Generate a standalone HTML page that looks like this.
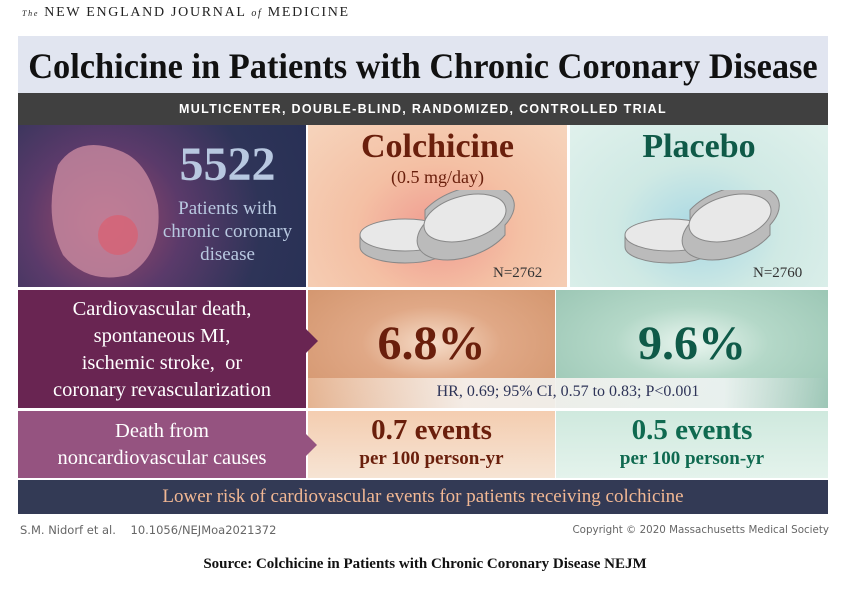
<!DOCTYPE html>
<html><head><meta charset="utf-8"><style>
body{margin:0;width:850px;height:593px;background:#fff;position:relative;overflow:hidden;font-family:"Liberation Serif",serif}
.a{position:absolute}
.c{text-align:center;white-space:nowrap}
</style></head><body>
<div class="a" style="left:22px;top:5px;font-size:14px;letter-spacing:1.7px;color:#222;white-space:nowrap"><span style="font-size:8px;font-style:italic">The</span> NEW ENGLAND JOURNAL <i style="font-size:10px">of</i> MEDICINE</div>
<div class="a" style="left:18px;top:36px;width:810px;height:57px;background:#e1e5f0"></div>
<div class="a c" style="left:10px;top:45px;width:810px;font-size:36px;font-weight:bold;color:#111;transform:scaleX(0.955);transform-origin:center">Colchicine in Patients with Chronic Coronary Disease</div>
<div class="a c" style="left:18px;top:93px;width:810px;height:32px;line-height:32px;background:#404040;color:#fff;font-family:'Liberation Sans',sans-serif;font-size:12.5px;font-weight:bold;letter-spacing:1.3px">MULTICENTER, DOUBLE-BLIND, RANDOMIZED, CONTROLLED TRIAL</div>
<!-- row1 -->
<div class="a" style="left:18px;top:125px;width:288px;height:162px;background:radial-gradient(circle at 30% 60%,#a04a6a 0,#5a3a6a 35%,#2e3458 70%,#283055 100%)"></div>
<svg class="a" style="left:18px;top:125px" width="160" height="162"><path d="M40 40 Q60 10 100 25 Q130 35 140 80 Q145 130 110 150 Q70 160 45 130 Q25 90 40 40Z" fill="#c88aa0" opacity=".8"/><circle cx="100" cy="110" r="20" fill="#e05a6a" opacity=".6"/></svg>
<div class="a c" style="left:160px;top:140px;width:135px;font-size:48px;font-weight:bold;color:#b8c8e0;line-height:50px">5522</div>
<div class="a c" style="left:150px;top:197px;width:155px;font-size:19px;color:#b8c8e0;line-height:23px;white-space:normal">Patients with chronic coronary disease</div>
<div class="a" style="left:308px;top:125px;width:259px;height:162px;background:radial-gradient(ellipse at 50% 65%,#f09a90 0,#f4c0a4 45%,#f6d4bc 100%)"></div>
<div class="a" style="left:570px;top:125px;width:258px;height:162px;background:radial-gradient(ellipse at 50% 65%,#a8d8e4 0,#cfe9e4 45%,#e0f1ec 100%)"></div>
<div class="a c" style="left:308px;top:128px;width:259px;font-size:34px;font-weight:bold;color:#6a1f0c">Colchicine</div>
<div class="a c" style="left:308px;top:167px;width:259px;font-size:18px;color:#6a1f0c">(0.5 mg/day)</div>
<div class="a c" style="left:570px;top:128px;width:258px;font-size:34px;font-weight:bold;color:#0f5a48">Placebo</div>
<svg class="a" style="left:355px;top:190px" width="170" height="80"><g fill="#e8e8e8" stroke="#888"><path d="M5 45 v12 a45 16 0 0 0 90 0 v-12" fill="#bbb"/><ellipse cx="50" cy="45" rx="45" ry="16"/><path d="M70 20 a40 22 -20 0 1 80 15 v10 a40 22 -20 0 1 -80 -12z" fill="#bbb"/><ellipse cx="110" cy="28" rx="42" ry="22" transform="rotate(-15 110 28)"/></g></svg>
<svg class="a" style="left:620px;top:190px" width="170" height="80"><g fill="#e8e8e8" stroke="#888"><path d="M5 45 v12 a45 16 0 0 0 90 0 v-12" fill="#bbb"/><ellipse cx="50" cy="45" rx="45" ry="16"/><path d="M70 20 a40 22 -20 0 1 80 15 v10 a40 22 -20 0 1 -80 -12z" fill="#bbb"/><ellipse cx="110" cy="28" rx="42" ry="22" transform="rotate(-15 110 28)"/></g></svg>
<div class="a" style="left:493px;top:265px;font-size:15px;color:#333">N=2762</div>
<div class="a" style="left:753px;top:265px;font-size:15px;color:#333">N=2760</div>
<!-- row2 -->
<div class="a" style="left:308px;top:290px;width:247px;height:118px;background:radial-gradient(ellipse at 50% 45%,#f6dcc8 0,#e0a886 40%,#d2946c 100%)"></div>
<div class="a" style="left:556px;top:290px;width:272px;height:118px;background:radial-gradient(ellipse at 50% 45%,#eaf6f0 0,#b4d8c8 40%,#98c4b2 100%)"></div>
<div class="a" style="left:308px;top:378px;width:520px;height:30px;background:linear-gradient(90deg,rgba(240,200,170,.6),rgba(245,240,235,.95) 30%,rgba(235,242,240,.95) 80%,rgba(160,200,185,.6))"></div>
<div class="a" style="left:18px;top:290px;width:288px;height:118px;background:#692552"></div>
<div class="a" style="left:306px;top:329px;width:0;height:0;border-top:12px solid transparent;border-bottom:12px solid transparent;border-left:12px solid #692552"></div>
<div class="a c" style="left:18px;top:296px;width:288px;font-size:20.5px;line-height:27px;color:#fff">Cardiovascular death,<br>spontaneous MI,<br>ischemic stroke, &nbsp;or<br>coronary revascularization</div>
<div class="a c" style="left:308px;top:316px;width:247px;font-size:48px;font-weight:bold;color:#6a1f0c">6.8%</div>
<div class="a c" style="left:556px;top:316px;width:272px;font-size:48px;font-weight:bold;color:#0f5a48">9.6%</div>
<div class="a c" style="left:308px;top:383px;width:520px;font-size:16px;color:#2e3458">HR, 0.69; 95% CI, 0.57 to 0.83; P&lt;0.001</div>
<!-- row3 -->
<div class="a" style="left:308px;top:411px;width:247px;height:67px;background:linear-gradient(#f4cdb0,#f6e4d4)"></div>
<div class="a" style="left:556px;top:411px;width:272px;height:67px;background:linear-gradient(#cfe9de,#e4f3ec)"></div>
<div class="a" style="left:18px;top:411px;width:288px;height:67px;background:#955380"></div>
<div class="a" style="left:306px;top:434px;width:0;height:0;border-top:11px solid transparent;border-bottom:11px solid transparent;border-left:11px solid #955380"></div>
<div class="a c" style="left:18px;top:418px;width:288px;font-size:20.5px;line-height:27px;color:#fff">Death from<br>noncardiovascular causes</div>
<div class="a c" style="left:308px;top:414px;width:247px;font-size:29px;font-weight:bold;color:#6a1f0c;line-height:32px">0.7 events</div>
<div class="a c" style="left:308px;top:448px;width:247px;font-size:19px;font-weight:bold;color:#6a1f0c">per 100 person-yr</div>
<div class="a c" style="left:556px;top:414px;width:272px;font-size:29px;font-weight:bold;color:#0f6a50;line-height:32px">0.5 events</div>
<div class="a c" style="left:556px;top:448px;width:272px;font-size:19px;font-weight:bold;color:#0f6a50">per 100 person-yr</div>
<div class="a c" style="left:18px;top:480px;width:810px;height:34px;line-height:34px;background:#333a55;color:#f2b894;font-size:19px">Lower risk of cardiovascular events for patients receiving colchicine</div>
<div class="a" style="left:20px;top:523px;font-family:'DejaVu Sans',sans-serif;font-size:11.5px;color:#666">S.M. Nidorf et al. &nbsp;&nbsp;&nbsp;10.1056/NEJMoa2021372</div>
<div class="a" style="right:21px;top:524px;font-family:'DejaVu Sans',sans-serif;font-size:10.3px;color:#666">Copyright © 2020 Massachusetts Medical Society</div>
<div class="a c" style="left:0;top:556px;width:850px;font-size:15px;font-weight:bold;color:#111">Source: Colchicine in Patients with Chronic Coronary Disease NEJM</div>
</body></html>
